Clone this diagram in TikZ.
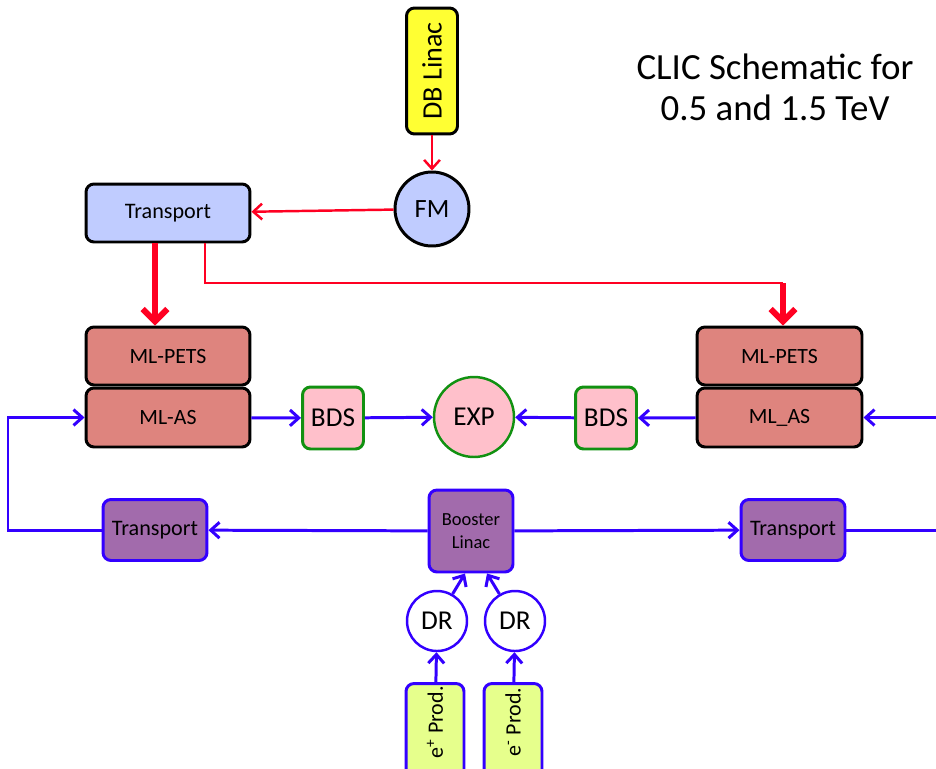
\documentclass[tikz,border=0pt]{standalone}
\usepackage{fontspec}
\setmainfont{Carlito}
\usetikzlibrary{arrows.meta}
\definecolor{dbyellow}{RGB}{255,255,51}
\definecolor{tblue}{RGB}{192,204,255}
\definecolor{mlred}{RGB}{222,132,126}
\definecolor{bdspink}{RGB}{255,192,203}
\definecolor{bdsgreen}{RGB}{17,145,17}
\definecolor{bblue}{RGB}{51,0,255}
\definecolor{bpurple}{RGB}{162,107,172}
\definecolor{plime}{RGB}{230,255,140}
\definecolor{dbred}{RGB}{255,0,34}
\begin{document}
\begin{tikzpicture}[x=0.02cm,y=-0.02cm,
  >={Straight Barb[length=5pt,width=9pt]},
  blackbox/.style={draw=black,line width=1.7pt,rounded corners=0.16cm,inner sep=0pt},
  bluebox/.style={draw=bblue,line width=1.7pt,rounded corners=0.16cm,inner sep=0pt},
  redline/.style={draw=dbred,line width=1.4pt},
  bigred/.style={draw=dbred,line width=3.4pt,-{Straight Barb[length=7pt,width=14pt]}},
  blueline/.style={draw=bblue,line width=1.7pt}]
\useasboundingbox (0,0) rectangle (936,768);
% drive beam
\node[blackbox,fill=dbyellow,minimum width=1.02cm,minimum height=2.52cm,font=\fontsize{16}{18}\selectfont] (db) at (432,71) {\rotatebox{90}{DB Linac}};
\node[circle,draw=black,line width=1.7pt,fill=tblue,minimum size=1.48cm,inner sep=0pt,font=\fontsize{15}{17}\selectfont] (fm) at (432,209) {FM};
\node[blackbox,fill=tblue,minimum width=3.28cm,minimum height=1.16cm,font=\fontsize{12.6}{14}\selectfont] (tr) at (168,213) {Transport};
\draw[redline,->] (db) -- (fm);
\draw[redline,->] (fm) -- (tr);
% main linacs
\node[blackbox,fill=mlred,minimum width=3.28cm,minimum height=1.16cm,font=\fontsize{12.4}{14}\selectfont] (petsl) at (168,356) {ML-PETS};
\node[blackbox,fill=mlred,minimum width=3.28cm,minimum height=1.18cm,font=\fontsize{12.4}{14}\selectfont] (asl) at (168,417.5) {ML-AS};
\node[blackbox,fill=mlred,minimum width=3.3cm,minimum height=1.16cm,font=\fontsize{12.4}{14}\selectfont] (petsr) at (779.5,356) {ML-PETS};
\node[blackbox,fill=mlred,minimum width=3.3cm,minimum height=1.18cm,font=\fontsize{12.4}{14}\selectfont] (asr) at (779.5,417.5) {ML\_AS};
\draw[bigred] ([xshift=-0.26cm]tr.south) -- ([xshift=-0.26cm]petsl.north);
\draw[redline] ([xshift=0.74cm]tr.south) |- (783,283) coordinate (bend);
\draw[bigred] (bend) -- ([xshift=0.07cm]petsr.north);
% BDS and experiment
\node[draw=bdsgreen,line width=1.7pt,fill=bdspink,rounded corners=0.16cm,minimum width=1.22cm,minimum height=1.24cm,inner sep=0pt,font=\fontsize{15.5}{17}\selectfont] (bdsl) at (333,418) {BDS};
\node[draw=bdsgreen,line width=1.7pt,fill=bdspink,rounded corners=0.16cm,minimum width=1.22cm,minimum height=1.24cm,inner sep=0pt,font=\fontsize{15.5}{17}\selectfont] (bdsr) at (606,418) {BDS};
\node[circle,draw=bdsgreen,line width=1.4pt,fill=bdspink,minimum size=1.6cm,inner sep=0pt,font=\fontsize{15.5}{17}\selectfont] (exp) at (474,417) {EXP};
\draw[blueline,->] (asl) -- (bdsl);
\draw[blueline,->] (bdsl) -- (exp);
\draw[blueline,->] (asr) -- (bdsr);
\draw[blueline,->] (bdsr) -- (exp);
\coordinate (inr) at (936,417.5);
\draw[blueline,->] (inr) -- (asr);
% main beam injectors
\node[bluebox,fill=bpurple,minimum width=1.68cm,minimum height=1.64cm,align=center,font=\fontsize{10.5}{13}\selectfont] (boost) at (471,531) {Booster\\Linac};
\node[bluebox,fill=bpurple,minimum width=2.08cm,minimum height=1.22cm,font=\fontsize{12.6}{14}\selectfont] (trl) at (155,530) {Transport};
\node[bluebox,fill=bpurple,minimum width=2.08cm,minimum height=1.22cm,font=\fontsize{12.6}{14}\selectfont] (trr) at (793,530) {Transport};
\draw[blueline,->] (boost) -- (trl);
\draw[blueline,->] (boost) -- (trr);
\coordinate (outr) at (936,530);
\draw[blueline] (trr) -- (outr);
\draw[blueline,->] (trl.west) -| (8,417.5) -- (asl.west);
\node[circle,draw=bblue,line width=1.4pt,fill=white,minimum size=1.2cm,inner sep=0pt,font=\fontsize{15.5}{17}\selectfont] (drl) at (437,621) {DR};
\node[circle,draw=bblue,line width=1.4pt,fill=white,minimum size=1.2cm,inner sep=0pt,font=\fontsize{15.5}{17}\selectfont] (drr) at (515,621) {DR};
\node[bluebox,fill=plime,minimum width=1.16cm,minimum height=1.9cm,font=\fontsize{12.5}{14}\selectfont] (prodp) at (435,731) {\rotatebox{90}{\hspace{0.35cm}e\textsuperscript{+} Prod.}};
\node[bluebox,fill=plime,minimum width=1.16cm,minimum height=1.9cm,font=\fontsize{12.5}{14}\selectfont] (prodm) at (513,731) {\rotatebox{90}{\hspace{0.35cm}e\textsuperscript{-} Prod.}};
\draw[blueline,->] (prodp) -- (drl);
\draw[blueline,->] (prodm) -- (drr);
\draw[blueline,->] (drl.60) -- ([xshift=-0.12cm]boost.south);
\draw[blueline,->] (drr.120) -- ([xshift=0.32cm]boost.south);
% title
\node[align=center,font=\fontsize{21}{23.5}\selectfont] (title) at (775,87) {CLIC Schematic for\\0.5 and 1.5 TeV};
\end{tikzpicture}
\end{document}
